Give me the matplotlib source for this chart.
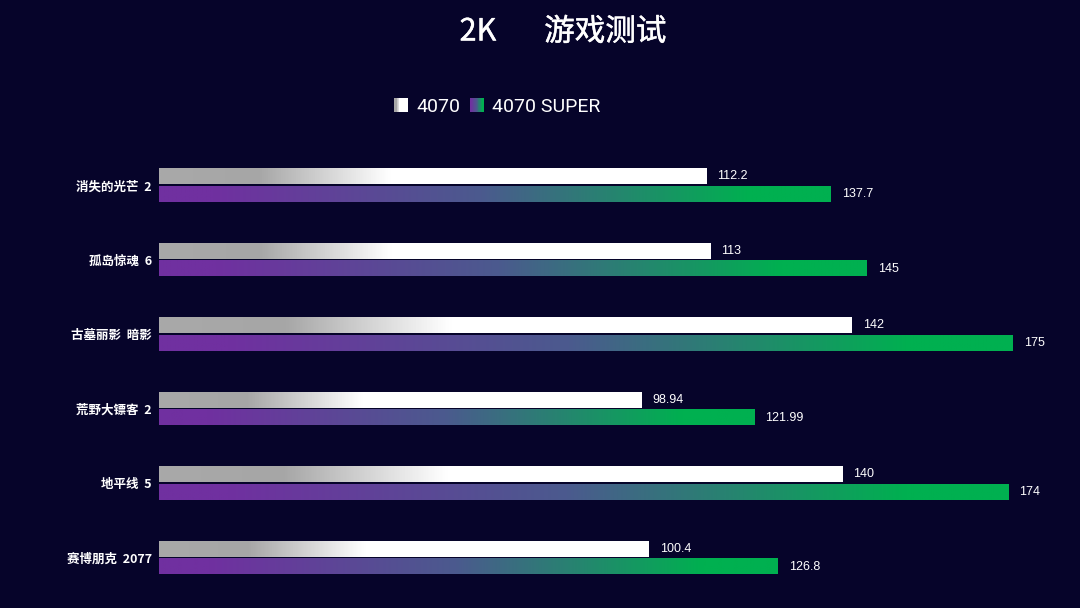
import numpy as np
import matplotlib
matplotlib.use("Agg")
import matplotlib.pyplot as plt
import matplotlib.patheffects as pe
from matplotlib.colors import LinearSegmentedColormap
from matplotlib.patches import Rectangle
from matplotlib.legend_handler import HandlerBase

plt.rcParams['font.family'] = ['Noto Sans CJK SC', 'DejaVu Sans']

games = ["消失的光芒  2", "孤岛惊魂  6", "古墓丽影  暗影", "荒野大镖客  2", "地平线  5", "赛博朋克  2077"]
v4070 = [112.2, 113, 142, 98.94, 140, 100.4]
v4070s = [137.7, 145, 175, 121.99, 174, 126.8]
labels4070 = ["112.2", "113", "142", "98.94", "140", "100.4"]
labels4070s = ["137.7", "145", "175", "121.99", "174", "126.8"]
series_names = ["4070", "4070 SUPER"]

BG = "#06042a"
cmap_w = LinearSegmentedColormap.from_list(
    "w", [(0, "#a9a9a9"), (0.18, "#a6a6a6"), (0.42, "#ffffff"), (1, "#ffffff")])
cmap_g = LinearSegmentedColormap.from_list(
    "g", [(0, "#7030a0"), (0.08, "#7030a0"), (0.48, "#4b5a8e"), (0.88, "#00b050"), (1, "#00b050")])

W, H = 1080, 608
fig = plt.figure(figsize=(W / 100, H / 100), dpi=100, facecolor=BG)
x0, x1 = 159, 1060
y_top, y_bot = 148, 595
ax = fig.add_axes([x0 / W, 1 - y_bot / H, (x1 - x0) / W, (y_bot - y_top) / H])
ax.set_facecolor(BG)
px_per_unit = 854 / 175.0
n = len(games)
for s in ax.spines.values():
    s.set_visible(False)
ax.set_xticks([])
ax.set_yticks(range(n))
ax.set_yticklabels(games, color="white", fontsize=9, fontweight="bold")
ax.tick_params(axis="y", length=0, pad=5)

bh = 0.205
off = 0.118
grad = np.linspace(0, 1, 512).reshape(1, -1)
for i in range(n):
    for val, lab, cm, dy in [(v4070[i], labels4070[i], cmap_w, -off),
                             (v4070s[i], labels4070s[i], cmap_g, off)]:
        yc = i + dy
        ax.imshow(grad, cmap=cm, aspect="auto", interpolation="bilinear",
                  extent=[0, val, yc + bh / 2, yc - bh / 2], zorder=2)
        ax.text(val + 11 / px_per_unit, yc, lab, color="white", fontsize=9,
                family=["Liberation Sans", "DejaVu Sans"], va="center", ha="left")
ax.set_xlim(0, (x1 - x0) / px_per_unit)
ax.set_ylim(n - 0.5, -0.5)


class GradHandler(HandlerBase):
    def __init__(self, cmap, **kw):
        super().__init__(**kw)
        self.cmap = cmap

    def create_artists(self, legend, orig_handle, xdescent, ydescent, width, height, fontsize, trans):
        arts = []
        k = 20
        for j in range(k):
            r = Rectangle((width * j / k, -ydescent), width / k * 1.05, height,
                          facecolor=self.cmap((j + 0.5) / k), edgecolor="none", transform=trans)
            arts.append(r)
        return arts


h1 = Rectangle((0, 0), 1, 1)
h2 = Rectangle((0, 0), 1, 1)
fig.legend([h1, h2], series_names,
           handler_map={h1: GradHandler(cmap_w), h2: GradHandler(cmap_g)},
           loc="center", bbox_to_anchor=(497 / W, 1 - 107 / H), ncol=2, frameon=False,
           labelcolor="white", handlelength=0.75, handleheight=0.75,
           handletextpad=0.4, columnspacing=0.5,
           prop={"family": ["Roboto", "DejaVu Sans"], "size": 14})

fig.text(563 / W, 1 - 32 / H, "2K       游戏测试", color="white", fontsize=22,
         ha="center", va="center", fontweight="normal",
         family=["Noto Sans CJK SC", "DejaVu Sans"],
         path_effects=[pe.withStroke(linewidth=0.3, foreground="white")])

fig.savefig("out.png", dpi=100, facecolor=BG)
